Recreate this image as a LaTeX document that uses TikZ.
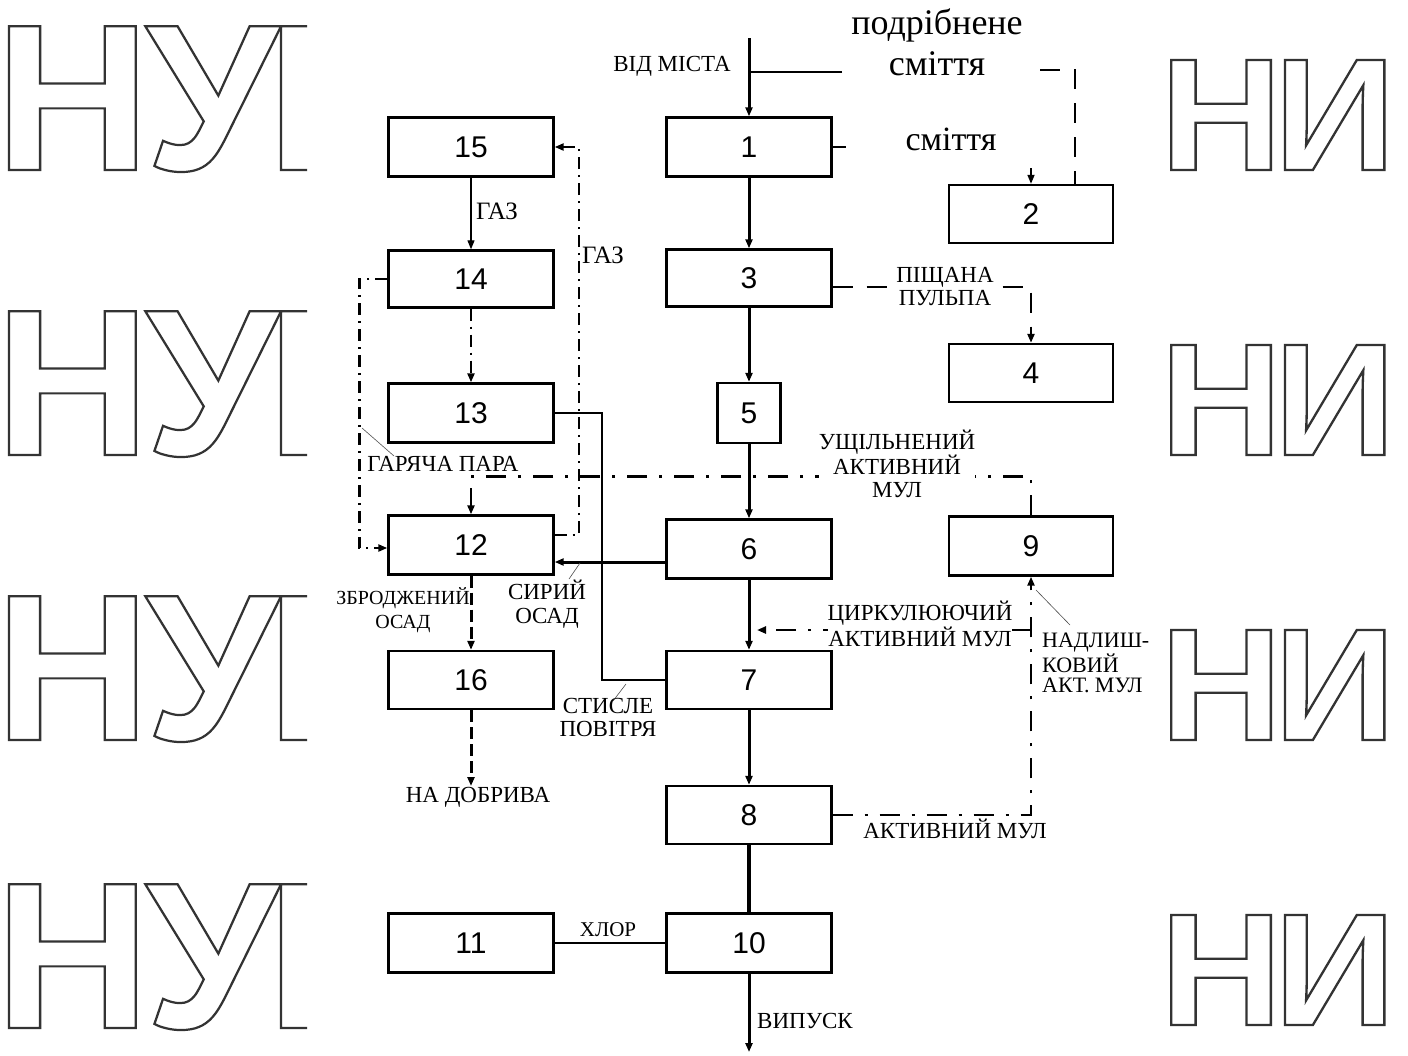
\documentclass[tikz,border=0pt]{standalone}
\usepackage{fontspec}
\setmainfont{Liberation Serif}
\newfontfamily\numfont{Liberation Sans}
\newfontfamily\wmfont{Liberation Sans}
\newcommand\strokedtext[1]{\special{pdf:code q 1 Tr 2.2 w}#1\special{pdf:code Q}}
\usetikzlibrary{arrows.meta,calc}
\tikzset{
  box/.style={draw, line width=2.4pt, minimum width=165pt, minimum height=59pt, inner sep=0pt,
    font=\numfont\fontsize{30}{30}\selectfont},
  lab/.style={font=\fontsize{23}{23}\selectfont, align=center, inner sep=1pt},
  wm/.style={inner sep=0pt, anchor=base west, text=black!80},
  mainln/.style={line width=3pt},
  arr/.style={-{Triangle[length=9pt,width=7pt]}},
  thinln/.style={line width=1.2pt},
  leader/.style={line width=0.6pt, black!70},
  ddln/.style={line width=2.6pt, dash pattern=on 20pt off 12pt on 3pt off 12pt},
  dotdln/.style={line width=2.4pt, dash pattern=on 12pt off 6pt on 2pt off 6pt},
  dashln/.style={line width=2.6pt, dash pattern=on 20pt off 14pt},
  shortdash/.style={line width=3pt, dash pattern=on 12pt off 5pt},
}
\begin{document}
\begin{tikzpicture}[x=1pt,y=-1pt]
\useasboundingbox (0,0) rectangle (1408,1055);
\fill[white] (0,0) rectangle (1408,1055);
% watermark
\begin{scope}
\clip (0,0) rectangle (307,1055);
\foreach \yy/\nm in {170/wa,455/wb,740/wc,1028/wd}
  \node[wm, font=\wmfont\bfseries\fontsize{209}{209}\selectfont, xscale=1.03] (\nm) at (-5.5,\yy)
    {\strokedtext{Н\kern-5ptУ\kern-12ptБ}};
\end{scope}
\begin{scope}
\clip (1165,0) rectangle (1408,1055);
\foreach \yy/\nm in {170/we,455/wf,740/wg,1025/wh}
  \node[wm, font=\wmfont\bfseries\fontsize{160}{160}\selectfont, xscale=1.06] (\nm) at (1159.6,\yy)
    {\strokedtext{Н\kern-8ptИ}};
\end{scope}

% boxes
\node[box] (b1) at (749,147) {1};
\node[box, minimum width=164pt, minimum height=58pt] (b2) at (1031,214) {2};
\node[box, minimum height=57pt] (b3) at (749,278) {3};
\node[box, minimum width=164pt, minimum height=58pt] (b4) at (1031,373) {4};
\node[box, minimum width=63pt, minimum height=60pt] (b5) at (749,413) {5};
\node[box] (b6) at (749,549) {6};
\node[box, minimum height=58pt] (b7) at (749,680) {7};
\node[box, minimum height=58pt] (b8) at (749,815) {8};
\node[box, minimum width=164pt] (b9) at (1031,546) {9};
\node[box] (b10) at (749,943) {10};
\node[box] (b11) at (471,943) {11};
\node[box] (b12) at (471,545) {12};
\node[box] (b13) at (471,413) {13};
\node[box, minimum height=57pt] (b14) at (471,279) {14};
\node[box] (b15) at (471,147) {15};
\node[box, minimum height=58pt] (b16) at (471,680) {16};

% coordinates
\coordinate (in) at (749,38);
\coordinate (trash) at (842,72);
\coordinate (s1) at (846,147);
\coordinate (t2) at (1040,70);
\coordinate (t3) at (1031,168);
\coordinate (out) at (749,1052);
\coordinate (fert) at (471,786);
\coordinate (circ) at (1031,630);

% main line
\draw[mainln,arr] (in) -- (b1.north);
\draw[line width=1.6pt] (trash) -- (trash -| in);
\draw[line width=2pt] (b1.east) -- (s1);
\draw[dashln] (t2) -| ($(b2.north)+(44,0)$);
\draw[line width=1.6pt,arr] (t3) -- (b2.north);
\draw[mainln,arr] (b1.south) -- (b3.north);
\draw[mainln,arr] (b3.south) -- (b5.north);
\draw[mainln,arr] (b5.south) -- (b6.north);
\draw[mainln,arr] (b6.south) -- (b7.north);
\draw[mainln,arr] (b7.south) -- (b8.north);
\draw[line width=3.6pt] (b8.south) -- (b10.north);
\draw[mainln,arr] (b10.south) -- (out);

% sand pulp
\draw[dashln,arr] ($(b3.east)+(0,9)$) -| (b4.north);

% left column
\draw[thinln,arr] (b15.south) -- (b14.north);
\draw[dotdln,arr] (b14.south) -- (b13.north);
\draw[dotdln,arr] ($(b12.east)+(0,-10)$) -- ++(24,0) |- (b15.east);
\draw[dotdln,arr] (b14.west) -- ++(-28,0) |- ($(b12.west)+(0,3)$);
\draw[line width=2pt] (b13.east) -- ++(47,0) |- (b7.west);
\draw[line width=3pt,arr] ($(b6.west)+(0,13)$) -- ($(b12.east)+(0,17)$);
\draw[shortdash,arr] (b12.south) -- (b16.north);
\draw[shortdash,arr] (b16.south) -- (fert);

% activated sludge loops
\draw[ddln,arr] (b9.north) -- ++(0,-39) -| (b12.north);
\draw[ddln,arr] (b8.east) -| (b9.south);
\draw[ddln,arr] (circ) -- ($(circ -| b6.south)+(8,0)$);

% chlorine
\draw[line width=2.2pt] (b11.east) -- (b10.west);

% labels
\node[lab] (lcity) at (672,66) {ВІД МІСТА};
\node[font=\fontsize{36}{41}\selectfont, align=center, inner sep=0pt] (ltrash) at (937,42) {подрібнене\\сміття};
\node[font=\fontsize{34}{34}\selectfont, inner sep=0pt] (ltrash2) at (951,139) {сміття};
\node[lab, fill=white] (lsand) at (945,287) {ПІЩАНА\\ПУЛЬПА};
\node[lab, font=\fontsize{25}{25}\selectfont] (lgas1) at (497,211) {ГАЗ};
\node[lab, font=\fontsize{25}{25}\selectfont] (lgas2) at (603,255) {ГАЗ};
\node[lab] (lsteam) at (443,464) {ГАРЯЧА ПАРА};
\node[lab, fill=white, inner sep=0pt] (lthick) at (897,464) {УЩІЛЬНЕНИЙ\\АКТИВНИЙ\\МУЛ};
\node[lab, font=\fontsize{20}{24}\selectfont] (lferm) at (403,610) {ЗБРОДЖЕНИЙ\\ОСАД};
\node[lab, font=\fontsize{23}{24}\selectfont] (lraw) at (547,604) {СИРИЙ\\ОСАД};
\node[lab, fill=white, inner sep=0pt, font=\fontsize{23}{26}\selectfont] (lcirc) at (920,624) {ЦИРКУЛЮЮЧИЙ\\АКТИВНИЙ МУЛ};
\node[lab, anchor=west, align=left, font=\fontsize{22}{20}\selectfont] (lexc) at (1041,663) {НАДЛИШ-\\КОВИЙ\\АКТ. МУЛ};
\node[lab] (lair) at (608,717) {СТИСЛЕ\\ПОВІТРЯ};
\node[lab] (lfert) at (478,797) {НА ДОБРИВА};
\node[lab] (lact) at (955,829) {АКТИВНИЙ МУЛ};
\node[lab, font=\fontsize{21}{21}\selectfont] (lcl) at (608,930) {ХЛОР};
\node[lab] (lout) at (805,1021) {ВИПУСК};

% leaders
\coordinate (ls1) at (362,428); \coordinate (ls2) at (394,456);
\draw[leader] (ls1) -- (ls2);
\coordinate (lr1) at (580,563); \coordinate (lr2) at (569,579);
\draw[leader] (lr1) -- (lr2);
\coordinate (la1) at (626,684); \coordinate (la2) at (613,701);
\draw[leader] (la1) -- (la2);
\coordinate (le1) at (1036,590); \coordinate (le2) at (1070,625);
\draw[leader] (le1) -- (le2);
\end{tikzpicture}
\end{document}
